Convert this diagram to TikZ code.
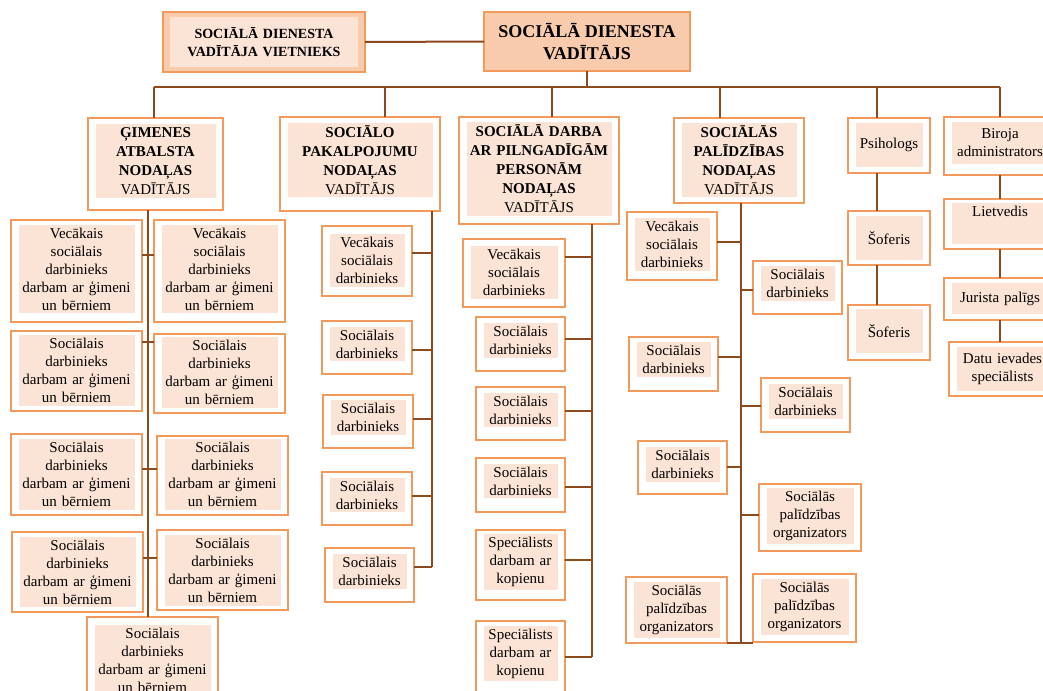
\documentclass[tikz,border=0pt]{standalone}
\usepackage{fontspec}
\setmainfont{Liberation Serif}
\definecolor{bord}{HTML}{F19A5B}
\definecolor{peach}{HTML}{FBE4D5}
\definecolor{peachd}{HTML}{F8CBAD}
\definecolor{brn}{HTML}{8C4A1E}
\tikzset{
 obox/.style={draw=bord, line width=1.1pt, fill=white, rectangle, inner sep=0pt, outer sep=0pt},
 ibox/.style={fill=peach, inner xsep=0pt, inner ysep=2.25pt, align=center, outer sep=0pt,
   font=\fontsize{11.25pt}{13.5pt}\selectfont},
 dept/.style={font=\fontsize{11.25pt}{14.25pt}\selectfont},
 conn/.style={draw=brn, line width=1.1pt},
 bus/.style={draw=brn, line width=1.5pt},
}
\newcommand\bx[8][]{%
 \pgfmathsetmacro\bxW{(#5-#3)*0.75}%
 \pgfmathsetmacro\bxH{(#6-#4)*0.75}%
 \pgfmathsetmacro\bxT{(#5-#3-15)*0.75}%
 \node[obox, minimum width=\bxW pt, minimum height=\bxH pt] (#2) at ({(#3+#5)/2},{(#4+#6)/2}) {};
 \node[ibox, text width=\bxT pt, #1] (#2-t) at ({(#3+#5)/2},#7) {#8};
}
\newcommand\tGv{Vecākais\\sociālais\\darbinieks\\darbam ar ģimeni\\un bērniem}
\newcommand\tGs{Sociālais\\darbinieks\\darbam ar ģimeni\\un bērniem}
\newcommand\tVsd{Vecākais\\sociālais\\darbinieks}
\newcommand\tSd{Sociālais\\darbinieks}
\newcommand\tSp{Speciālists\\darbam ar\\kopienu}
\newcommand\tOrg{Sociālās\\palīdzības\\organizators}
\begin{document}
\begin{tikzpicture}[x=0.75pt,y=-0.75pt]
\useasboundingbox (0,0) rectangle (1043,690);
\clip (0,0) rectangle (1043,690);

% ---- top level
\node[obox, fill=peachd, minimum width=151.5pt, minimum height=45pt] (vietn) at (264,42) {};
\node[ibox, text width=141pt, minimum height=37.5pt, font=\bfseries\fontsize{10.5pt}{13.5pt}\selectfont] (vietn-t) at (264,42) {SOCIĀLĀ DIENESTA\\VADĪTĀJA VIETNIEKS};
\node[obox, fill=peachd, minimum width=154.5pt, minimum height=44.25pt, align=center,
  font=\bfseries\fontsize{13.5pt}{16.5pt}\selectfont] (head) at (587,41.5) {SOCIĀLĀ DIENESTA\\VADĪTĀJS};
\draw[bus] (vietn.east) -- (head.west);
\coordinate (busL) at (154,87);
\coordinate (busR) at (1000,87);
\draw[bus] (head.south) -- (head.south |- busL);
\draw[bus] (busL) -- (busR);

% ---- department heads
\bx[dept]{gim}{88}{118}{223}{210}{161}{\textbf{ĢIMENES}\\\textbf{ATBALSTA}\\\textbf{NODAĻAS}\\VADĪTĀJS}
\bx[dept]{soc}{280}{117}{440}{211}{160}{\textbf{SOCIĀLO}\\\textbf{PAKALPOJUMU}\\\textbf{NODAĻAS}\\VADĪTĀJS}
\bx[dept]{sdp}{459}{117}{619}{224}{169}{\textbf{SOCIĀLĀ DARBA}\\\textbf{AR PILNGADĪGĀM}\\\textbf{PERSONĀM}\\\textbf{NODAĻAS}\\VADĪTĀJS}
\bx[dept]{spn}{674}{118}{804}{203}{160}{\textbf{SOCIĀLĀS}\\\textbf{PALĪDZĪBAS}\\\textbf{NODAĻAS}\\VADĪTĀJS}
\bx[minimum height=33pt]{psi}{848}{118}{930}{173}{145}{Psihologs}
\bx[minimum height=32pt]{bir}{944}{117}{1056}{175}{143}{Biroja\\administrators}

\coordinate (dSoc) at (385,87);
\coordinate (dSdp) at (552,87);
\coordinate (dSpn) at (720,87);
\coordinate (dPsi) at (877,87);
\draw[bus] (busL) -- (busL |- gim.north);
\draw[bus] (dSoc) -- (dSoc |- soc.north);
\draw[bus] (dSdp) -- (dSdp |- sdp.north);
\draw[bus] (dSpn) -- (dSpn |- spn.north);
\draw[bus] (dPsi) -- (dPsi |- psi.north);
\draw[bus] (busR) -- (busR |- bir.north);

% ---- Gimenes column
\bx{gL1}{11}{220}{142}{322}{269}{\tGv}
\bx{gR1}{154}{220}{285}{322}{269}{\tGv}
\bx{gL2}{11}{331}{142}{411}{370.5}{\tGs}
\bx{gR2}{154}{334}{285}{413}{372.5}{\tGs}
\bx{gL3}{11}{434}{142}{515}{474.5}{\tGs}
\bx{gR3}{157}{436}{288}{515}{474.5}{\tGs}
\bx{gL4}{12}{532}{143}{612}{572}{\tGs}
\bx{gR4}{157}{530}{288}{610}{570.5}{\tGs}
\bx{gB}{87}{617}{218}{703}{660}{\tGs}
\coordinate (gT) at (148,0);
\draw[conn] (gim.south -| gT) -- (gB.north -| gT);
\foreach \a/\b/\y in {gL1/gR1/255, gL2/gR2/342, gL3/gR3/469, gL4/gR4/558}{
  \coordinate (\a-c) at (148,\y);
  \draw[conn] (\a.east |- \a-c) -- (\b.west |- \a-c);
}

% ---- Socialo pakalpojumu column
\bx{s1}{322}{226}{412}{296}{260.5}{\tVsd}
\bx{s2}{322}{321}{412}{374}{344}{\tSd}
\bx{s3}{323}{395}{413}{448}{417.5}{\tSd}
\bx{s4}{322}{472}{412}{525}{495}{\tSd}
\bx{s5}{325}{548}{414}{602}{571.5}{\tSd}
\coordinate (sT) at (432,567);
\draw[conn] (soc.south -| sT) -- (sT);
\foreach \a/\y in {s1/253, s2/350, s3/419, s4/496, s5/567}{
  \coordinate (\a-c) at (432,\y);
  \draw[conn] (\a.east |- \a-c) -- (\a-c);
}

% ---- Sociala darba column
\bx{d1}{463}{239}{565}{307}{272.5}{\tVsd}
\bx{d2}{476}{317}{565}{371}{340.5}{\tSd}
\bx{d3}{476}{387}{565}{440}{410}{\tSd}
\bx{d4}{476}{458}{565}{512}{481}{\tSd}
\bx{d5}{476}{530}{565}{600}{562}{\tSp}
\bx{d6}{476}{621}{565}{692}{653.5}{\tSp}
\coordinate (dT) at (592,657);
\draw[conn] (sdp.south -| dT) -- (dT);
\foreach \a/\y in {d1/257, d2/339, d3/411, d4/487, d5/560, d6/657}{
  \coordinate (\a-c) at (592,\y);
  \draw[conn] (\a.east |- \a-c) -- (\a-c);
}

% ---- Socialas palidzibas column
\bx{p1}{627}{212}{717}{280}{244.5}{\tVsd}
\bx{p2}{753}{261}{842}{314}{283.5}{\tSd}
\bx{p3}{629}{337}{718}{391}{359.5}{\tSd}
\bx{p4}{761}{378}{850}{432}{401.5}{\tSd}
\bx{p5}{638}{441}{727}{494}{464.5}{\tSd}
\bx{p6}{759}{484}{861}{551}{516}{\tOrg}
\bx{p7}{626}{577}{727}{643}{610}{\tOrg}
\bx{p8}{753}{574}{856}{642}{607}{\tOrg}
\coordinate (pT) at (741,643);
\draw[conn] (spn.south -| pT) -- (pT);
\foreach \a/\y in {p1/242, p3/357, p5/467, p7/643}{
  \coordinate (\a-c) at (741,\y);
  \draw[conn] (\a.east |- \a-c) -- (\a-c);
}
\foreach \a/\y in {p2/290, p4/406, p6/515, p8/643}{
  \coordinate (\a-c) at (741,\y);
  \draw[conn] (\a-c) -- (\a.west |- \a-c);
}

% ---- Psihologs column
\bx[minimum height=33pt]{sof1}{848}{211}{930}{265}{238}{Šoferis}
\bx[minimum height=33pt]{sof2}{848}{305}{930}{360}{331}{Šoferis}
\draw[bus] (psi.south -| dPsi) -- (sof1.north -| dPsi);
\draw[bus] (sof1.south -| dPsi) -- (sof2.north -| dPsi);

% ---- Biroja column
\bx[text depth=18pt]{lie}{944}{199}{1056}{249}{223.5}{Lietvedis}
\bx[minimum height=23pt]{jur}{944}{278}{1056}{320}{298.5}{Jurista palīgs}
\bx[minimum height=33pt]{dat}{949}{342}{1056}{396}{369}{Datu ievades\\speciālists}
\draw[bus] (bir.south -| busR) -- (lie.north -| busR);
\draw[bus] (lie.south -| busR) -- (jur.north -| busR);
\draw[bus] (jur.south -| busR) -- (dat.north -| busR);
\end{tikzpicture}
\end{document}
